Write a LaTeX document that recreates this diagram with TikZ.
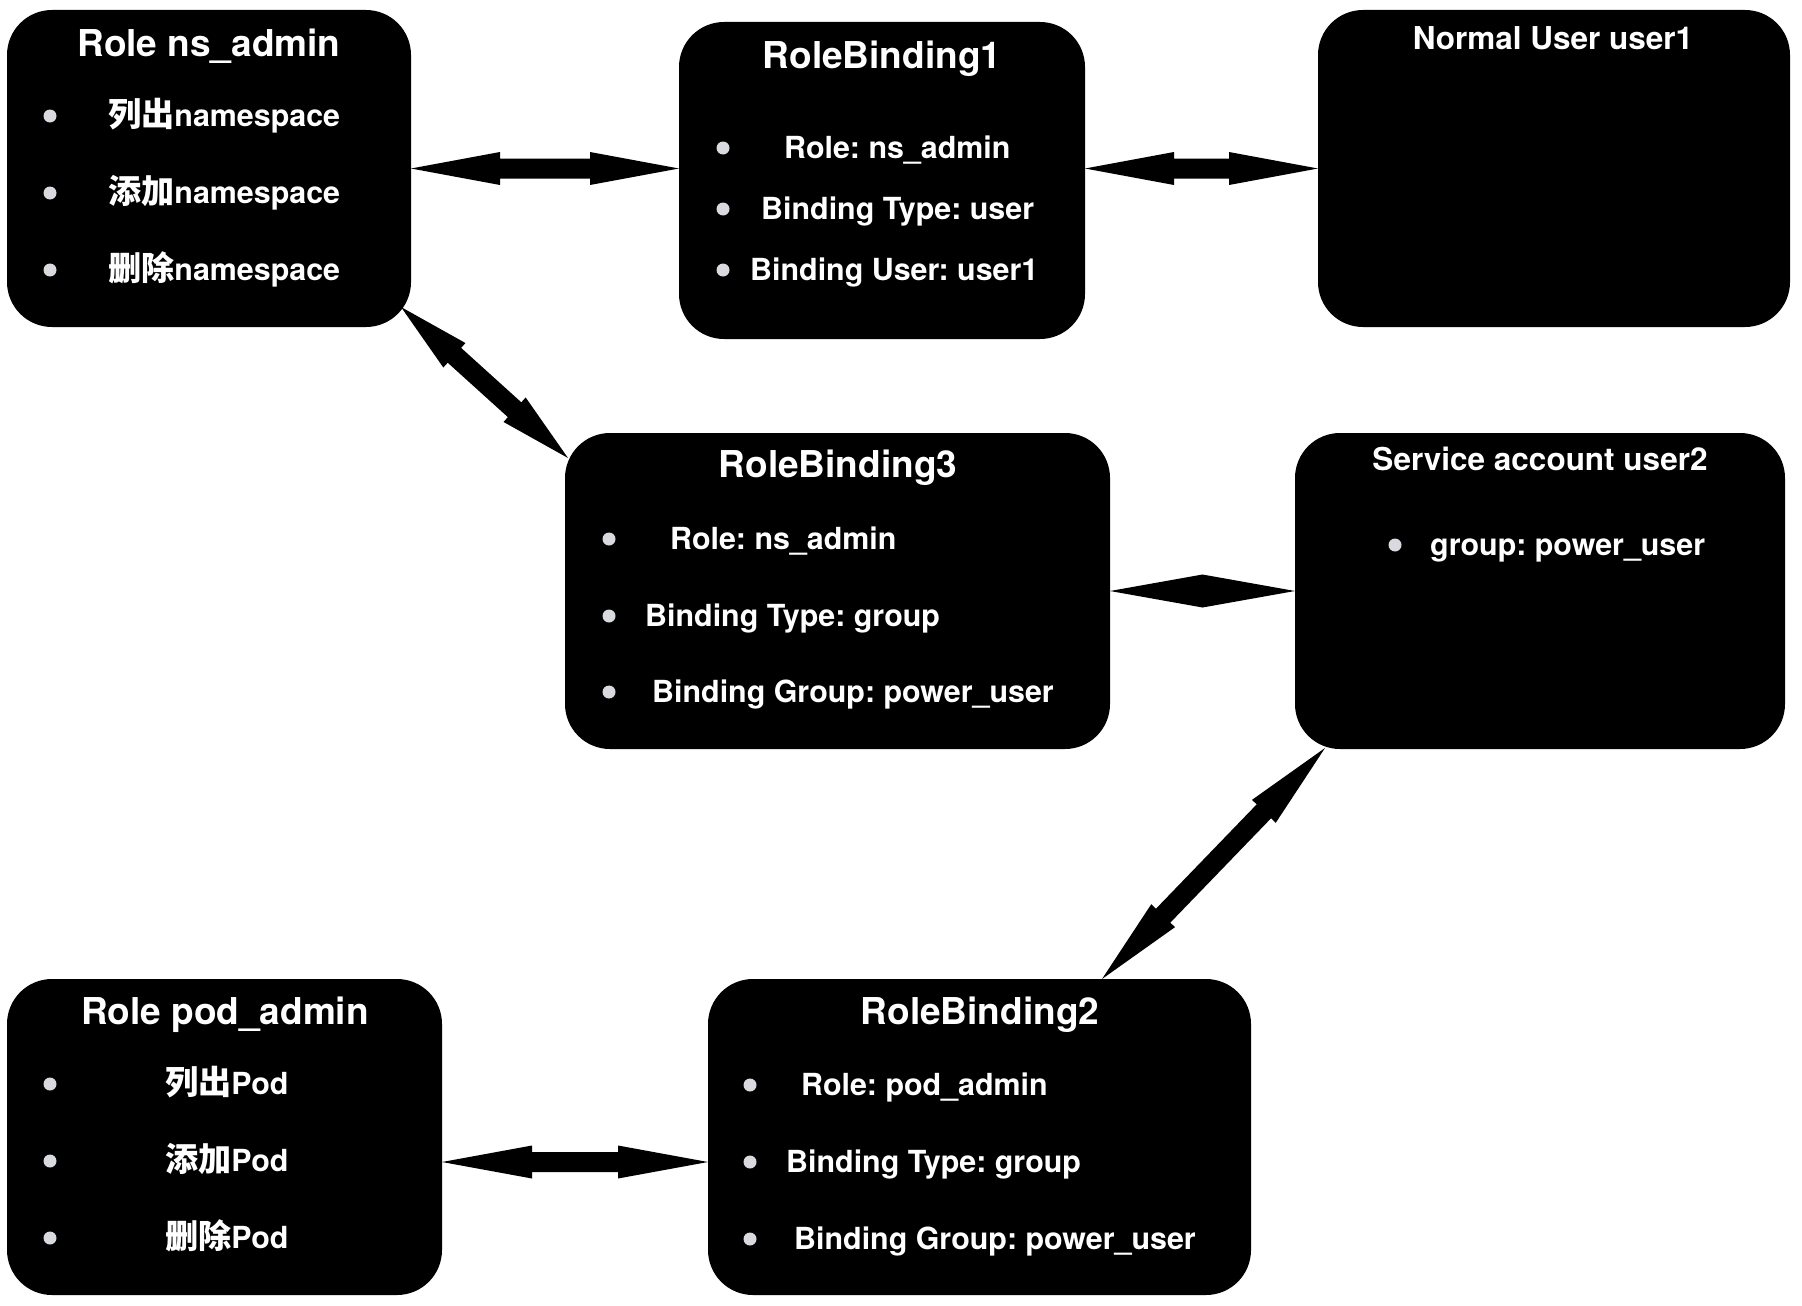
\documentclass[tikz,border=0pt]{standalone}
\usepackage{fontspec}
\setmainfont{TeX Gyre Heros}
\newfontfamily\cjk{Noto Sans CJK SC}[Scale=1.09]
\usetikzlibrary{calc}
\frenchspacing
\definecolor{bul}{HTML}{D8DAE0}
\tikzset{
  box/.style={rectangle, fill=black, rounded corners=45pt, inner sep=0pt, outer sep=0pt},
  ttl/.style={text=white, font=\fontsize{37}{40}\selectfont\bfseries, inner sep=0pt, anchor=mid, yshift=-10pt},
  sttl/.style={ttl, font=\fontsize{31.5}{34}\selectfont\bfseries},
  itm/.style={text=white, font=\fontsize{30.4}{34}\selectfont\bfseries, inner sep=0pt, anchor=mid west, yshift=-8pt},
  bulletdot/.style={circle, fill=bul, minimum size=13pt, inner sep=0pt},
  conn/.style={fill=black, draw=none},
}
\newcommand\blockarrow[3]{%
  \fill[conn] (#2)
    -- ($(#2)!#1pt!(#3)!16.5pt!90:(#3)$)
    -- ($(#2)!#1pt!(#3)!10pt!90:(#3)$)
    -- ($(#3)!#1pt!(#2)!10pt!-90:(#2)$)
    -- ($(#3)!#1pt!(#2)!16.5pt!-90:(#2)$)
    -- (#3)
    -- ($(#3)!#1pt!(#2)!16.5pt!90:(#2)$)
    -- ($(#3)!#1pt!(#2)!10pt!90:(#2)$)
    -- ($(#2)!#1pt!(#3)!10pt!-90:(#3)$)
    -- ($(#2)!#1pt!(#3)!16.5pt!-90:(#3)$)
    -- cycle;}
\begin{document}
\begin{tikzpicture}[x=1pt, y=-1pt]
\useasboundingbox (0,0) rectangle (1802,1306);
\fill[white] (0,0) rectangle (1802,1306);

% boxes
\node[box, minimum width=404pt, minimum height=317pt] (nsadmin) at (209,168.5) {};
\node[box, minimum width=406pt, minimum height=317pt] (rb1) at (882,180.5) {};
\node[box, minimum width=472pt, minimum height=317pt] (nu) at (1554,168.5) {};
\node[box, minimum width=545pt, minimum height=316pt] (rb3) at (837.5,591) {};
\node[box, minimum width=490pt, minimum height=316pt] (sa) at (1540,591) {};
\node[box, minimum width=435pt, minimum height=316pt] (poda) at (224.5,1137) {};
\node[box, minimum width=543pt, minimum height=316pt] (rb2) at (979.5,1137) {};

% Role ns_admin
\node[ttl] (t1) at (209,44) {Role ns\_admin};
\node[bulletdot] (b1a) at (50,116) {};
\node[bulletdot] (b1b) at (50,193) {};
\node[bulletdot] (b1c) at (50,270) {};
\node[itm] (i1a) at (108,116) {{\cjk 列出}namespace};
\node[itm] (i1b) at (108,193) {{\cjk 添加}namespace};
\node[itm] (i1c) at (108,270) {{\cjk 删除}namespace};

% RoleBinding1
\node[ttl] (t2) at (882,56) {RoleBinding1};
\node[bulletdot] (b2a) at (723,148) {};
\node[bulletdot] (b2b) at (723,209) {};
\node[bulletdot] (b2c) at (723,270) {};
\node[itm] (i2a) at (784,148) {Role: ns\_admin};
\node[itm] (i2b) at (761,209) {Binding Type: user};
\node[itm] (i2c) at (750,270) {Binding User: user1};

% Normal User
\node[sttl] (t3) at (1553,37) {Normal User user1};

% RoleBinding3
\node[ttl] (t4) at (838,465) {RoleBinding3};
\node[bulletdot] (b4a) at (609,539) {};
\node[bulletdot] (b4b) at (609,616) {};
\node[bulletdot] (b4c) at (609,692) {};
\node[itm] (i4a) at (670,539) {Role: ns\_admin};
\node[itm] (i4b) at (645,616) {Binding Type: group};
\node[itm] (i4c) at (652,692) {Binding Group: power\_user};

% Service account
\node[sttl] (t5) at (1540,458) {Service account user2};
\node[bulletdot] (b5a) at (1395,545) {};
\node[itm] (i5a) at (1430,545) {group: power\_user};

% Role pod_admin
\node[ttl] (t6) at (225,1012) {Role pod\_admin};
\node[bulletdot] (b6a) at (50,1084) {};
\node[bulletdot] (b6b) at (50,1161) {};
\node[bulletdot] (b6c) at (50,1238) {};
\node[itm] (i6a) at (165,1084) {{\cjk 列出}Pod};
\node[itm] (i6b) at (165,1161) {{\cjk 添加}Pod};
\node[itm] (i6c) at (165,1238) {{\cjk 删除}Pod};

% RoleBinding2
\node[ttl] (t7) at (980,1012) {RoleBinding2};
\node[bulletdot] (b7a) at (750,1085) {};
\node[bulletdot] (b7b) at (750,1162) {};
\node[bulletdot] (b7c) at (750,1239) {};
\node[itm] (i7a) at (801,1085) {Role: pod\_admin};
\node[itm] (i7b) at (786,1162) {Binding Type: group};
\node[itm] (i7c) at (794,1239) {Binding Group: power\_user};

% connector end points
\coordinate (a1s) at (nsadmin.east);
\coordinate (a1e) at (nsadmin.east -| rb1.west);
\coordinate (a2s) at (rb1.east |- nu.west);
\coordinate (a2e) at (nu.west);
\coordinate (a3s) at ($(nsadmin.south east)+(-10,-20)$);
\coordinate (a3e) at ($(rb3.north west)+(3,25)$);
\coordinate (a4s) at (rb3.east);
\coordinate (a4e) at (sa.west);
\coordinate (a5s) at ($(sa.south west)+(30,-1)$);
\coordinate (a5e) at ($(rb2.north west)+(394,0)$);
\coordinate (a6s) at ($(poda.east)+(0,25)$);
\coordinate (a6e) at (a6s -| rb2.west);

% connectors
\blockarrow{89}{a1s}{a1e}
\blockarrow{89}{a2s}{a2e}
\blockarrow{72}{a3s}{a3e}
\fill[conn] (a4s) -- ($(a4s)!.5!(a4e)!16.5pt!90:(a4e)$) -- (a4e)
  -- ($(a4s)!.5!(a4e)!16.5pt!-90:(a4e)$) -- cycle;
\blockarrow{88}{a5s}{a5e}
\blockarrow{90}{a6s}{a6e}
\end{tikzpicture}
\end{document}
